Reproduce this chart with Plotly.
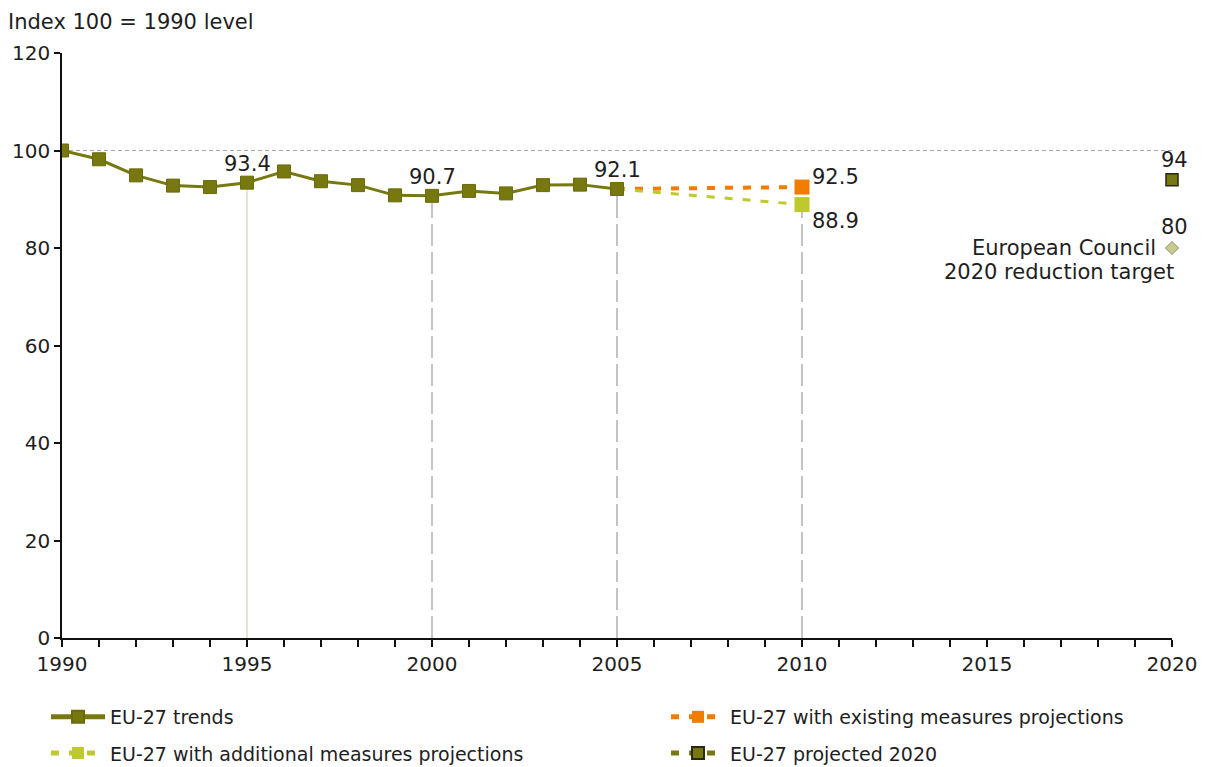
import plotly.graph_objects as go

# ---- data ----
years = list(range(1990, 2006))
trend = [100.0, 98.2, 94.9, 92.8, 92.5, 93.4, 95.7, 93.7, 92.9, 90.8,
         90.7, 91.7, 91.2, 92.9, 93.0, 92.1]
proj_years = [2005, 2010]
existing = [92.1, 92.5]
additional = [92.1, 88.9]
proj2020_year = [2020]
proj2020 = [94]
target_year = [2020]
target = [80]
labelled_years = [1995, 2000, 2005]

OLIVE = "#77780f"
ORANGE = "#f07d00"
LIME = "#bdc92d"
FONT = "DejaVu Sans"
TXT = "#1e1e1e"
FS_LABEL = 21
FS_TICK = 20
FS_LEG = 19

fig = go.Figure()

# reference line at 1990 level
fig.add_trace(go.Scatter(x=[years[0], proj2020_year[0]], y=[trend[0], trend[0]],
                         mode="lines", line=dict(color="#a8a8a8", width=1, dash="4px,3px"),
                         showlegend=False, hoverinfo="skip", cliponaxis=False))

# vertical drop lines
i95 = years.index(1995)
fig.add_trace(go.Scatter(x=[years[i95], years[i95]], y=[0, trend[i95]], mode="lines",
                         line=dict(color="#dcdcc6", width=1.5), showlegend=False, hoverinfo="skip"))
for yr, val in [(2000, trend[years.index(2000)]), (2005, trend[years.index(2005)]),
                (2010, additional[1])]:
    fig.add_trace(go.Scatter(x=[yr, yr], y=[0, val], mode="lines",
                             line=dict(color="#c4c4c4", width=2, dash="22px,6px"),
                             showlegend=False, hoverinfo="skip"))

# projections
fig.add_trace(go.Scatter(x=proj_years, y=existing, mode="lines+markers",
                         name="EU-27 with existing measures projections",
                         line=dict(color=ORANGE, width=4, dash="8px,10px"),
                         marker=dict(symbol="square", size=[11, 15], color=ORANGE, opacity=1,
                                     line=dict(width=0)),
                         legend="legend2"))
fig.add_trace(go.Scatter(x=proj_years, y=additional, mode="lines+markers",
                         name="EU-27 with additional measures projections",
                         line=dict(color=LIME, width=3, dash="8px,10px"),
                         marker=dict(symbol="square", size=[11, 15], color=LIME, opacity=1,
                                     line=dict(width=0)),
                         legend="legend3"))

# trends
fig.add_trace(go.Scatter(x=years, y=trend, mode="lines+markers", name="EU-27 trends",
                         line=dict(color=OLIVE, width=3),
                         marker=dict(symbol="square", size=13, color=OLIVE,
                                     line=dict(color="#6a6b0c", width=1)),
                         legend="legend"))

# projected 2020
fig.add_trace(go.Scatter(x=proj2020_year, y=proj2020, mode="lines+markers",
                         name="EU-27 projected 2020",
                         line=dict(color=OLIVE, width=4, dash="8px,10px"),
                         marker=dict(symbol="square", size=12, color=OLIVE,
                                     line=dict(color="#2a2a10", width=1.5)),
                         legend="legend4", cliponaxis=False))

# target
fig.add_trace(go.Scatter(x=target_year, y=target, mode="markers", showlegend=False,
                         marker=dict(symbol="diamond", size=10, color="#c7cb91",
                                     line=dict(color="#8c9060", width=1)),
                         cliponaxis=False))

# ---- annotations ----
ann_font = dict(family=FONT, size=FS_LABEL, color=TXT)
for yr in labelled_years:
    v = trend[years.index(yr)]
    fig.add_annotation(x=yr, y=v, text=f"{v:.1f}", showarrow=False, yshift=19, font=ann_font)
fig.add_annotation(x=proj_years[1], y=existing[1], text=f"{existing[1]:.1f}", showarrow=False,
                   xanchor="left", xshift=8, yshift=10, font=ann_font)
fig.add_annotation(x=proj_years[1], y=additional[1], text=f"{additional[1]:.1f}", showarrow=False,
                   xanchor="left", xshift=8, yshift=-16, font=ann_font)
fig.add_annotation(x=proj2020_year[0], y=proj2020[0], text=f"{proj2020[0]}", showarrow=False,
                   xanchor="center", xshift=2, yshift=20, font=ann_font)
fig.add_annotation(x=target_year[0], y=target[0], text=f"{target[0]}", showarrow=False,
                   xanchor="center", xshift=2, yshift=21, font=ann_font)
fig.add_annotation(x=target_year[0], y=target[0], text="European Council", showarrow=False,
                   xanchor="right", xshift=-14, yshift=0, font=ann_font)
fig.add_annotation(x=target_year[0], y=target[0], text="2020 reduction target", showarrow=False,
                   xanchor="right", xshift=4, yshift=-24, font=ann_font)
fig.add_annotation(x=0, y=1, xref="paper", yref="paper", xanchor="left", yanchor="middle",
                   text="Index 100 = 1990 level", showarrow=False, xshift=-56, yshift=31,
                   font=dict(family=FONT, size=FS_LABEL, color=TXT))

axis_font = dict(family=FONT, size=FS_TICK, color=TXT)
leg_common = dict(xanchor="left", yanchor="middle", orientation="v",
                  font=dict(family=FONT, size=FS_LEG, color=TXT), itemwidth=54,
                  itemsizing="constant", bgcolor="rgba(0,0,0,0)")
LX = -0.0144
RX = LX + 620 / 1110
fig.update_layout(
    width=1205, height=759,
    margin=dict(l=54, r=41, t=45, b=129, autoexpand=False),
    paper_bgcolor="white", plot_bgcolor="white",
    font=dict(family=FONT, size=FS_TICK, color=TXT),
    xaxis=dict(range=[1990, 2020], tick0=1990, dtick=5, showgrid=False, zeroline=False,
               showline=True, linecolor="#111", linewidth=1.5, automargin=False,
               ticks="outside", ticklen=7, tickwidth=1.5, tickcolor="#111",
               tickfont=axis_font,
               minor=dict(dtick=1, ticks="outside", ticklen=7, tickwidth=1.5,
                          tickcolor="#111", showgrid=False)),
    yaxis=dict(range=[0, 120], dtick=20, showgrid=False, zeroline=False,
               showline=True, linecolor="#111", linewidth=1.5, automargin=False,
               ticks="outside", ticklen=6, tickwidth=1.5, tickcolor="#111",
               tickfont=axis_font),
    legend=dict(x=LX, y=-0.135, **leg_common),
    legend3=dict(x=LX, y=-0.197, **leg_common),
    legend2=dict(x=RX, y=-0.135, **leg_common),
    legend4=dict(x=RX, y=-0.197, **leg_common),
)

fig.write_html("out.html")
